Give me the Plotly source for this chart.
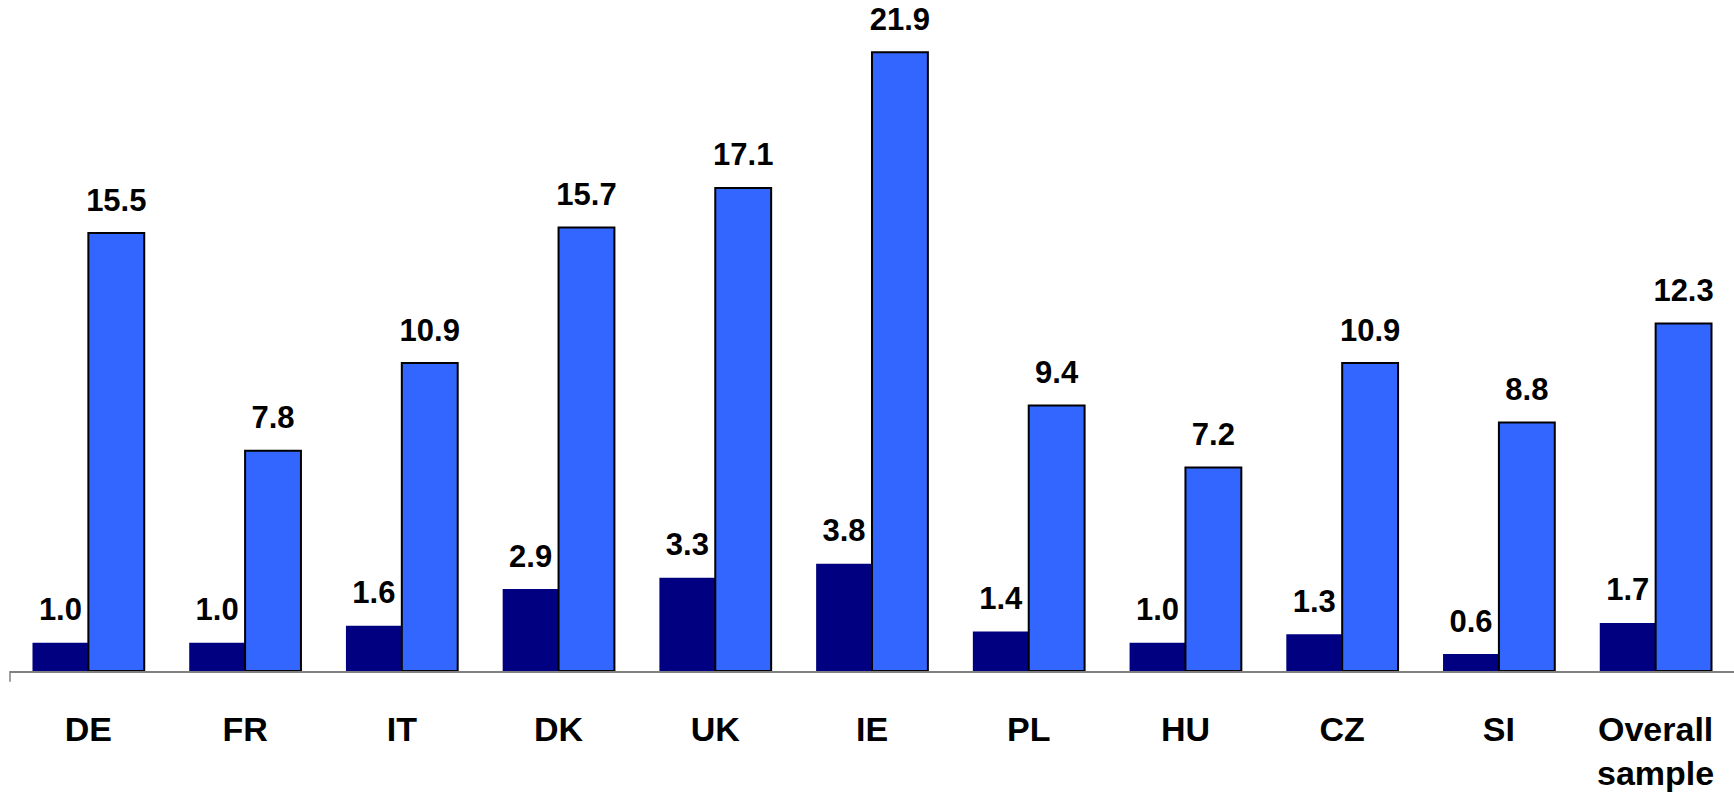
import plotly.graph_objects as go

categories = ["DE", "FR", "IT", "DK", "UK", "IE", "PL", "HU", "CZ", "SI", "Overall<br>sample"]
series_dark = [1.0, 1.0, 1.6, 2.9, 3.3, 3.8, 1.4, 1.0, 1.3, 0.6, 1.7]
series_light = [15.5, 7.8, 10.9, 15.7, 17.1, 21.9, 9.4, 7.2, 10.9, 8.8, 12.3]

DARK = "#000080"
LIGHT = "#3366FF"
FONT = "Liberation Sans, Arial, sans-serif"

fig = go.Figure()

fig.add_trace(go.Bar(
    x=categories, y=series_dark, marker=dict(color=DARK, line=dict(width=0)),
    offsetgroup="a", showlegend=False, hoverinfo="skip",
))
fig.add_trace(go.Bar(
    x=categories, y=series_light, marker=dict(color=LIGHT, line=dict(color="black", width=2)),
    offsetgroup="b", showlegend=False, hoverinfo="skip",
))

# value labels sitting above each bar
for vals, grp in ((series_dark, "a"), (series_light, "b")):
    fig.add_trace(go.Scatter(
        x=categories, y=vals, mode="markers+text", offsetgroup=grp,
        text=[f"{v:.1f}" for v in vals], textposition="top center",
        textfont=dict(family=FONT, size=31, color="black", weight="bold"),
        marker=dict(size=22, opacity=0), showlegend=False, hoverinfo="skip",
        cliponaxis=False,
    ))

fig.update_layout(
    width=1734, height=792,
    margin=dict(l=10, r=0, t=0, b=115),
    barmode="group", scattermode="group", bargap=0.287, bargroupgap=0,
    plot_bgcolor="white", paper_bgcolor="white",
    font=dict(family=FONT, color="black"),
)
fig.update_xaxes(
    range=[-0.5, 10.5], showline=True, linecolor="#808080", linewidth=1.5,
    showgrid=False, ticks="", ticklabelstandoff=27,
    tickfont=dict(family=FONT, size=34, color="black", weight="bold"),
)
fig.update_yaxes(range=[0, 23.75], visible=False, showgrid=False)

# short tick at the left end of the category axis
fig.add_shape(type="line", xref="paper", yref="paper", x0=0, x1=0, y0=0, y1=-0.016,
              line=dict(color="#808080", width=1.5))

fig.write_html("out.html")
